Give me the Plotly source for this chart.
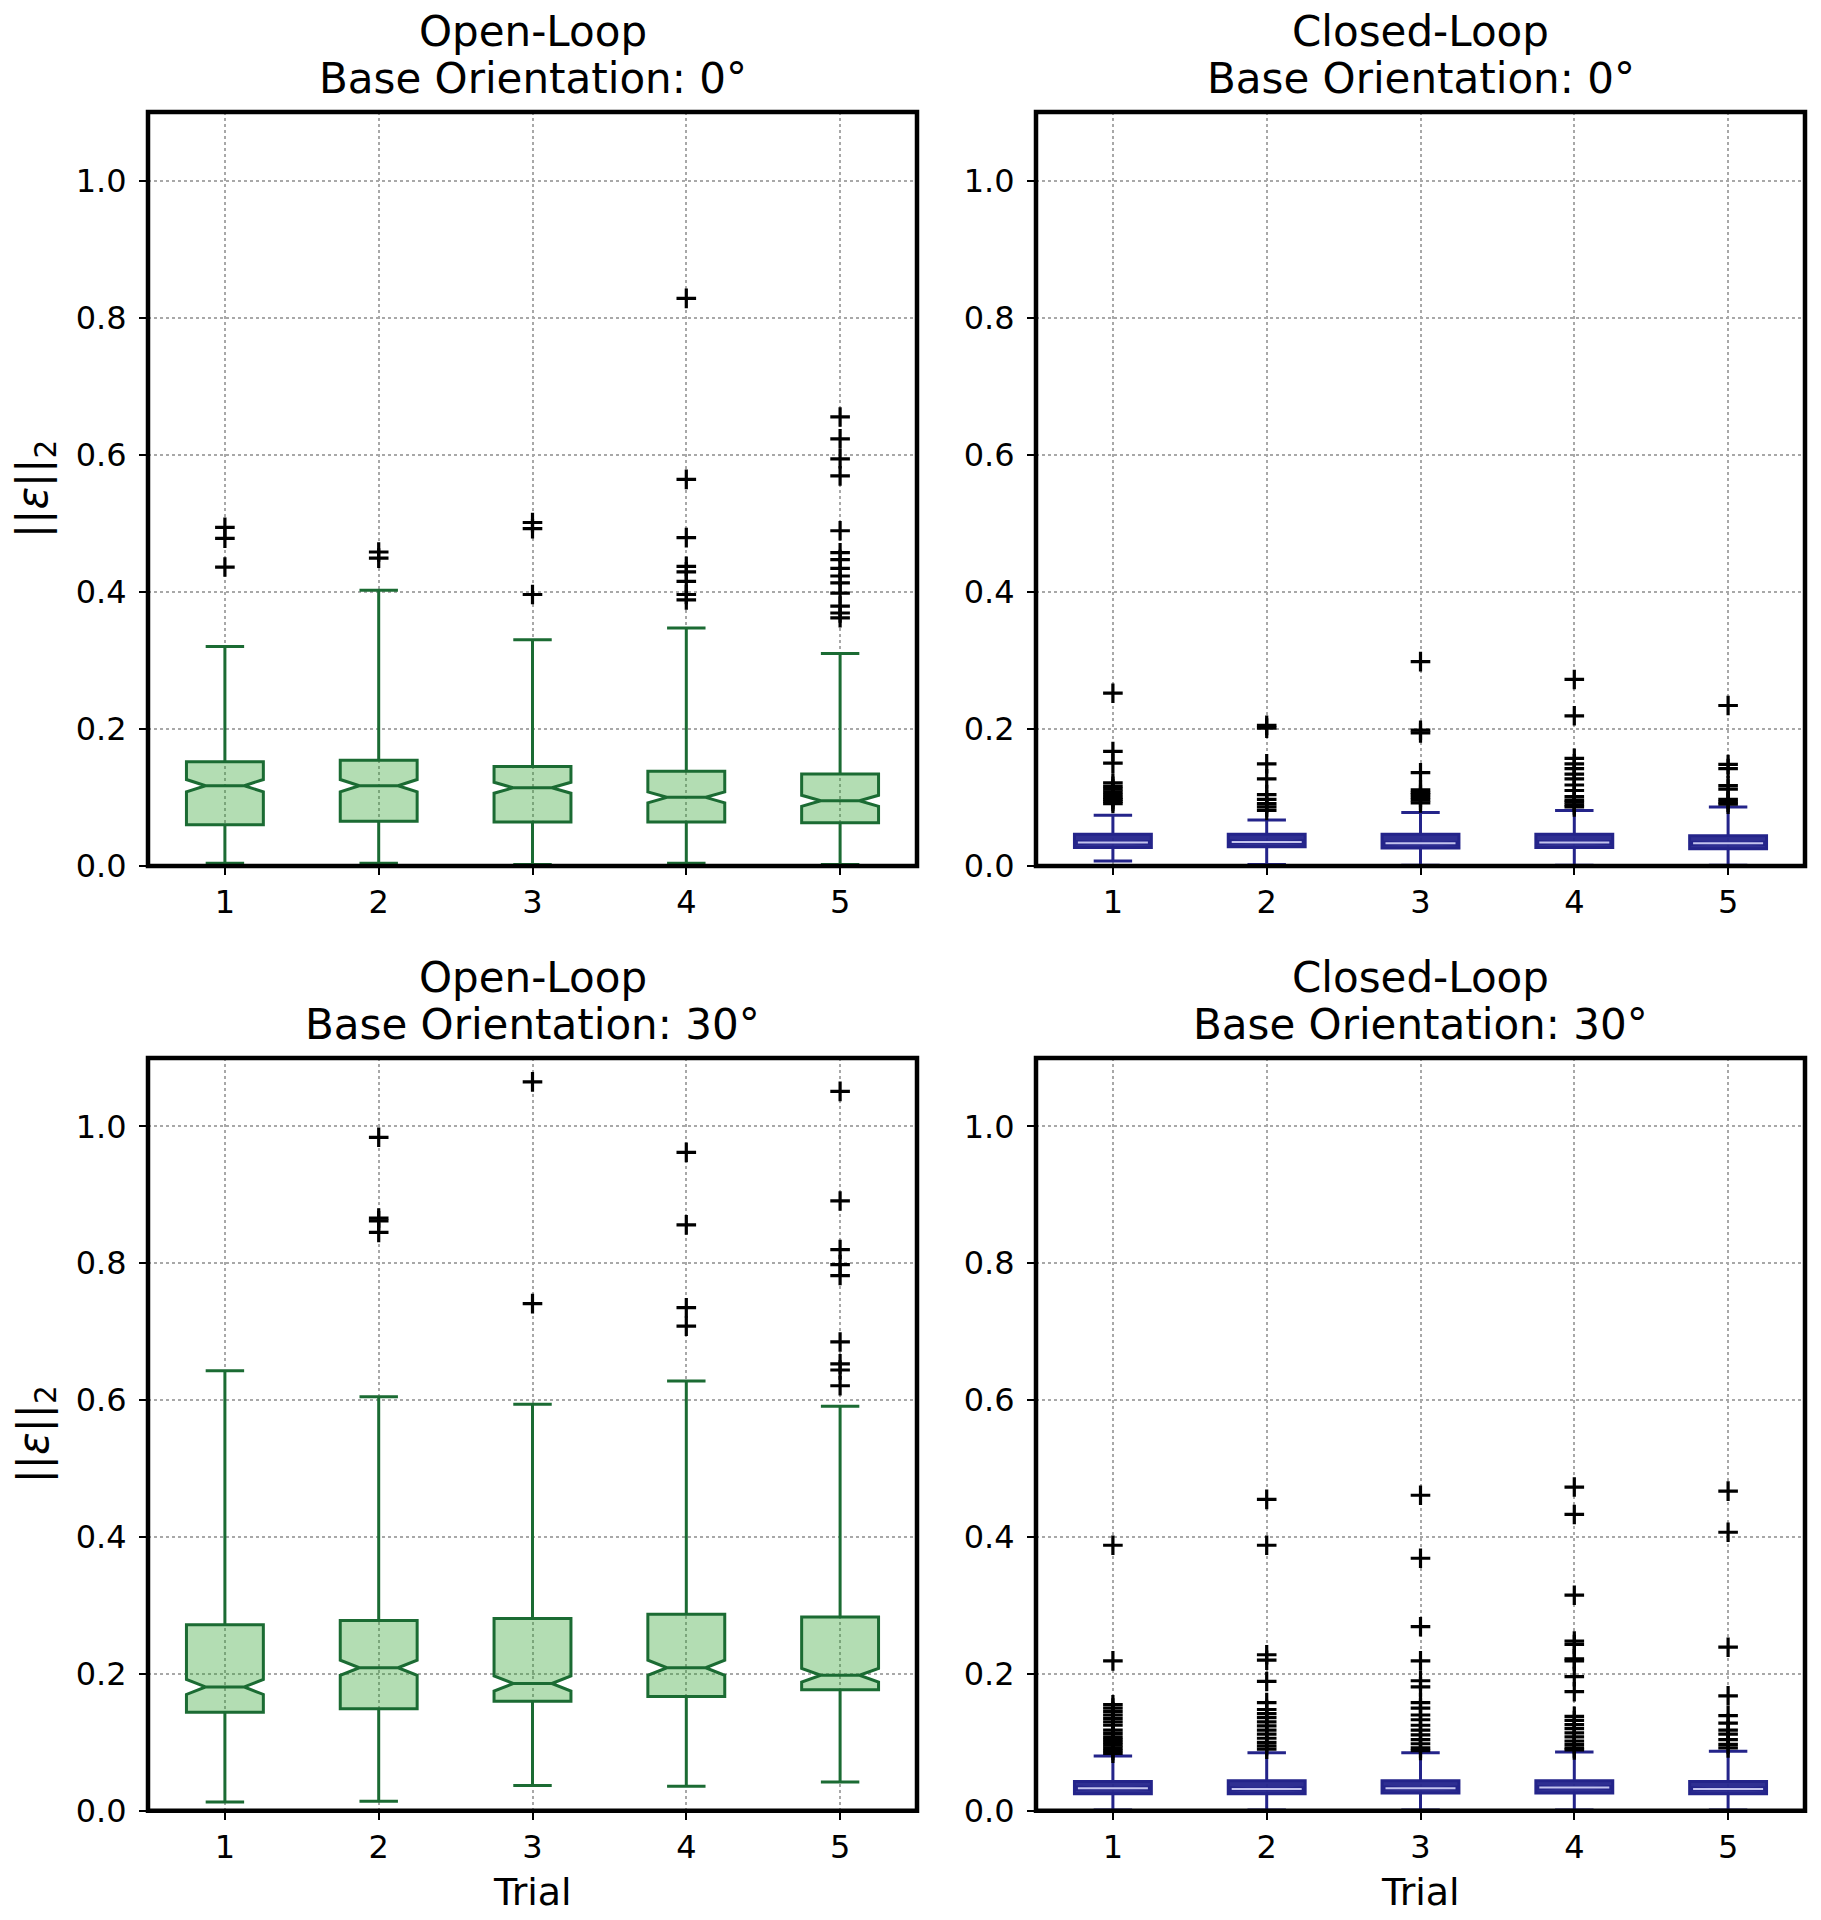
import plotly.graph_objects as go

trials = [1, 2, 3, 4, 5]
y_ticks = [0.0, 0.2, 0.4, 0.6, 0.8, 1.0]
y_tick_labels = ["0.0", "0.2", "0.4", "0.6", "0.8", "1.0"]

panel_titles = [
    ("Open-Loop", "Base Orientation: 0°"),
    ("Closed-Loop", "Base Orientation: 0°"),
    ("Open-Loop", "Base Orientation: 30°"),
    ("Closed-Loop", "Base Orientation: 30°"),
]

# ---- Open-Loop, 0 deg ----
ol0_q1 = [0.060, 0.065, 0.064, 0.064, 0.063]
ol0_med = [0.117, 0.117, 0.114, 0.100, 0.095]
ol0_q3 = [0.152, 0.154, 0.145, 0.138, 0.134]
ol0_lo = [0.004, 0.004, 0.002, 0.004, 0.002]
ol0_hi = [0.320, 0.402, 0.330, 0.347, 0.310]
ol0_notch = [0.009, 0.009, 0.008, 0.008, 0.008]
ol0_out = [
    [0.494, 0.478, 0.436],
    [0.458, 0.449],
    [0.501, 0.492, 0.396],
    [0.828, 0.564, 0.479, 0.437, 0.429, 0.415, 0.396, 0.388],
    [0.655, 0.623, 0.594, 0.569, 0.489, 0.457, 0.447, 0.434, 0.423, 0.413, 0.398, 0.379, 0.369, 0.362],
]

# ---- Closed-Loop, 0 deg ----
cl0_q1 = [0.027, 0.028, 0.026, 0.027, 0.025]
cl0_med = [0.034, 0.035, 0.033, 0.034, 0.033]
cl0_q3 = [0.046, 0.046, 0.046, 0.046, 0.044]
cl0_lo = [0.007, 0.002, 0.001, 0.001, 0.001]
cl0_hi = [0.074, 0.067, 0.078, 0.081, 0.086]
cl0_notch = [0.002, 0.002, 0.002, 0.002, 0.002]
cl0_out = [
    [0.252, 0.167, 0.150, 0.121, 0.116, 0.112, 0.108, 0.104, 0.100, 0.097, 0.094, 0.091],
    [0.205, 0.201, 0.149, 0.127, 0.104, 0.097, 0.091, 0.086, 0.081],
    [0.298, 0.198, 0.194, 0.136, 0.111, 0.107, 0.104, 0.100, 0.096, 0.092],
    [0.272, 0.219, 0.157, 0.149, 0.142, 0.134, 0.127, 0.118, 0.110, 0.101, 0.096, 0.093, 0.089, 0.086],
    [0.234, 0.148, 0.142, 0.117, 0.112, 0.097, 0.093, 0.090],
]

# ---- Open-Loop, 30 deg ----
ol30_q1 = [0.144, 0.149, 0.160, 0.167, 0.177]
ol30_med = [0.181, 0.209, 0.186, 0.209, 0.198]
ol30_q3 = [0.272, 0.278, 0.281, 0.287, 0.283]
ol30_lo = [0.013, 0.014, 0.037, 0.036, 0.042]
ol30_hi = [0.643, 0.605, 0.594, 0.628, 0.591]
ol30_notch = [0.011, 0.011, 0.011, 0.011, 0.010]
ol30_out = [
    [],
    [0.984, 0.866, 0.862, 0.845],
    [1.065, 0.741],
    [0.962, 0.856, 0.735, 0.708],
    [1.051, 0.891, 0.820, 0.798, 0.782, 0.685, 0.653, 0.644, 0.621],
]

# ---- Closed-Loop, 30 deg ----
cl30_q1 = [0.025, 0.025, 0.026, 0.026, 0.025]
cl30_med = [0.033, 0.032, 0.033, 0.034, 0.032]
cl30_q3 = [0.043, 0.044, 0.044, 0.044, 0.043]
cl30_lo = [0.001, 0.001, 0.001, 0.001, 0.001]
cl30_hi = [0.080, 0.085, 0.085, 0.086, 0.087]
cl30_notch = [0.002, 0.002, 0.002, 0.002, 0.002]
cl30_out = [
    [0.388, 0.219, 0.155, 0.150, 0.145, 0.140, 0.135, 0.130, 0.125, 0.118, 0.113, 0.108, 0.104, 0.100, 0.096, 0.092, 0.088, 0.084],
    [0.455, 0.388, 0.228, 0.220, 0.189, 0.158, 0.148, 0.142, 0.136, 0.130, 0.124, 0.118, 0.112, 0.106, 0.100, 0.095, 0.090],
    [0.461, 0.369, 0.269, 0.219, 0.190, 0.181, 0.158, 0.150, 0.140, 0.133, 0.125, 0.118, 0.111, 0.104, 0.098, 0.092, 0.088],
    [0.473, 0.433, 0.315, 0.248, 0.243, 0.222, 0.219, 0.196, 0.174, 0.138, 0.132, 0.126, 0.120, 0.114, 0.108, 0.102, 0.097, 0.092, 0.089],
    [0.467, 0.407, 0.239, 0.168, 0.139, 0.128, 0.118, 0.112, 0.104, 0.097, 0.092],
]

panels = [
    (ol0_q1, ol0_med, ol0_q3, ol0_lo, ol0_hi, ol0_notch, ol0_out, "green"),
    (cl0_q1, cl0_med, cl0_q3, cl0_lo, cl0_hi, cl0_notch, cl0_out, "blue"),
    (ol30_q1, ol30_med, ol30_q3, ol30_lo, ol30_hi, ol30_notch, ol30_out, "green"),
    (cl30_q1, cl30_med, cl30_q3, cl30_lo, cl30_hi, cl30_notch, cl30_out, "blue"),
]

styles = {
    "green": dict(line="#1b6b33", fill="rgba(44,160,44,0.36)"),
    "blue": dict(line="#24248a", fill="rgba(36,36,140,0.95)"),
}

FONT = "DejaVu Sans"
OFF = 8  # page body margin
W, H = 1821 - 2 * OFF, 1940
Y_SCALE = 0.9903  # measured vertical scale of the captured page


def px_x(p):
    return (p - OFF) / W


def px_y(p):
    p = (p + 0.9) / Y_SCALE
    return 1 - (p - OFF) / H


x_doms = [(px_x(148), px_x(917)), (px_x(1036), px_x(1805))]
y_doms = [(px_y(865), px_y(111)), (px_y(1810), px_y(1057))]

fig = go.Figure()

for i, (q1, med, q3, lo, hi, notch, outs, col) in enumerate(panels):
    ax = "" if i == 0 else str(i + 1)
    st = styles[col]
    fig.add_trace(go.Box(
        x=trials, q1=q1, median=med, q3=q3, lowerfence=lo, upperfence=hi,
        notched=True, notchspan=notch, notchwidth=0.25,
        width=0.5, whiskerwidth=0.5,
        line=dict(color=st["line"], width=3), fillcolor=st["fill"],
        boxpoints=False, showlegend=False, hoverinfo="skip",
        xaxis="x" + ax, yaxis="y" + ax,
    ))
    if col == "blue":
        fig.add_trace(go.Scatter(
            x=trials, y=med, mode="markers",
            marker=dict(symbol="line-ew", size=50, line=dict(color="#c4c4ee", width=2)),
            showlegend=False, hoverinfo="skip", xaxis="x" + ax, yaxis="y" + ax,
        ))
    ox, oy = [], []
    for t, vals in zip(trials, outs):
        ox += [t] * len(vals)
        oy += vals
    fig.add_trace(go.Scatter(
        x=ox, y=oy, mode="markers",
        marker=dict(symbol="cross-thin", size=14, color="black",
                    line=dict(color="black", width=3.2)),
        showlegend=False, hoverinfo="skip", xaxis="x" + ax, yaxis="y" + ax,
    ))

axis_common = dict(
    showline=False,
    showgrid=True, gridcolor="#a8a8a8", gridwidth=1.5, griddash="dot",
    ticks="outside", ticklen=8, tickwidth=2, tickcolor="black",
    tickfont=dict(family=FONT, size=32, color="black"), zeroline=False,
)

layout = dict(
    width=W, height=H, margin=dict(l=0, r=0, t=0, b=0),
    paper_bgcolor="white", plot_bgcolor="white", showlegend=False,
)
annotations = []
shapes = []
for i in range(4):
    r, c = divmod(i, 2)
    sfx = "" if i == 0 else str(i + 1)
    layout["xaxis" + sfx] = dict(
        axis_common, domain=x_doms[c], range=[0.5, 5.5],
        tickvals=trials, ticktext=[str(t) for t in trials],
        anchor="y" + sfx, ticklabelstandoff=0,
    )
    layout["yaxis" + sfx] = dict(
        axis_common, domain=y_doms[r], range=[0, 1.1],
        tickvals=y_ticks, ticktext=y_tick_labels,
        anchor="x" + sfx, ticklabelstandoff=6,
    )
    shapes.append(dict(type="rect", xref="x" + sfx + " domain", yref="y" + sfx + " domain",
                       x0=0, x1=1, y0=0, y1=1, line=dict(color="black", width=4.5),
                       fillcolor="rgba(0,0,0,0)", layer="above"))
    xc = (x_doms[c][0] + x_doms[c][1]) / 2
    line1_y = [31, 977][r]
    line2_y = [78, 1024][r]
    annotations.append(dict(text=panel_titles[i][0], x=xc, y=px_y(line1_y), xref="paper", yref="paper",
                            xanchor="center", yanchor="middle", showarrow=False,
                            font=dict(family=FONT, size=42, color="black")))
    annotations.append(dict(text=panel_titles[i][1], x=xc, y=px_y(line2_y), xref="paper", yref="paper",
                            xanchor="center", yanchor="middle", showarrow=False,
                            font=dict(family=FONT, size=42, color="black")))
    if c == 0:
        yc = (y_doms[r][0] + y_doms[r][1]) / 2
        annotations.append(dict(text="||<i>ε</i>||<sub>2</sub>", x=px_x(36), y=yc, xref="paper", yref="paper",
                                xanchor="center", yanchor="middle", textangle=-90, showarrow=False,
                                font=dict(family=FONT, size=42, color="black")))
    if r == 1:
        annotations.append(dict(text="Trial", x=xc, y=px_y(1891), xref="paper", yref="paper",
                                xanchor="center", yanchor="middle", showarrow=False,
                                font=dict(family=FONT, size=38, color="black")))

layout["annotations"] = annotations
layout["shapes"] = shapes
fig.update_layout(**layout)
fig.write_html("out.html")
